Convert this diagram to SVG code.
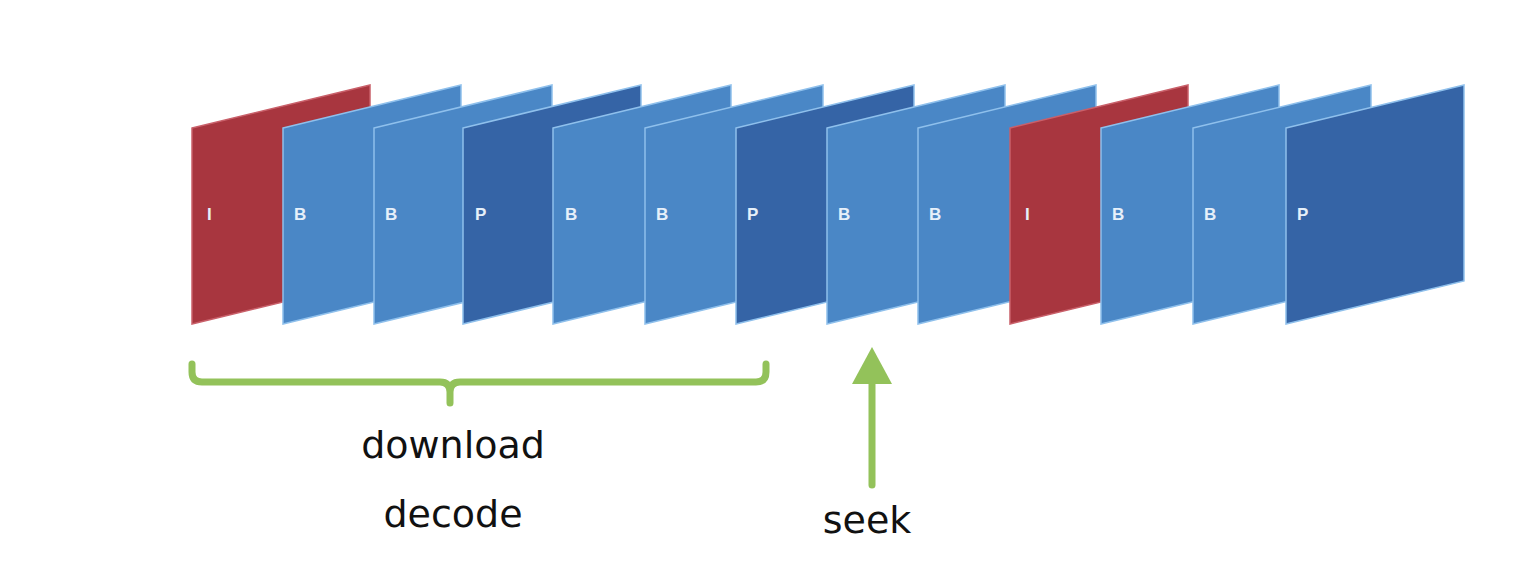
<svg xmlns="http://www.w3.org/2000/svg" width="1540" height="578" viewBox="0 0 1540 578">
<style>
.f{stroke:#8fc0ec;stroke-width:1.5}
.r{fill:#a8363f;stroke:#c9606a}
.b{fill:#4a87c6}
.d{fill:#3564a6}
.l{font-family:"Liberation Sans",Arial,sans-serif;font-weight:bold;font-size:17px;fill:#e6f0fa}
.t{font-family:"DejaVu Sans","Noto Sans",sans-serif;font-size:38px;fill:#111;text-anchor:middle}
.g{fill:none;stroke:#93c25a;stroke-width:7;stroke-linecap:round;stroke-linejoin:round}
</style>
<defs><path id="fr" d="M0,128 L178,85 L178,281 L0,324 Z"/></defs>
<g id="frames">
<g id="f1"><use href="#fr" x="192" class="f r"/><text class="l" x="207" y="220">I</text></g>
<g id="f2"><use href="#fr" x="283" class="f b"/><text class="l" x="294" y="220">B</text></g>
<g id="f3"><use href="#fr" x="374" class="f b"/><text class="l" x="385" y="220">B</text></g>
<g id="f4"><use href="#fr" x="463" class="f d"/><text class="l" x="475" y="220">P</text></g>
<g id="f5"><use href="#fr" x="553" class="f b"/><text class="l" x="565" y="220">B</text></g>
<g id="f6"><use href="#fr" x="645" class="f b"/><text class="l" x="656" y="220">B</text></g>
<g id="f7"><use href="#fr" x="736" class="f d"/><text class="l" x="747" y="220">P</text></g>
<g id="f8"><use href="#fr" x="827" class="f b"/><text class="l" x="838" y="220">B</text></g>
<g id="f9"><use href="#fr" x="918" class="f b"/><text class="l" x="929" y="220">B</text></g>
<g id="f10"><use href="#fr" x="1010" class="f r"/><text class="l" x="1025" y="220">I</text></g>
<g id="f11"><use href="#fr" x="1101" class="f b"/><text class="l" x="1112" y="220">B</text></g>
<g id="f12"><use href="#fr" x="1193" class="f b"/><text class="l" x="1204" y="220">B</text></g>
<g id="f13"><use href="#fr" x="1286" class="f d"/><text class="l" x="1297" y="220">P</text></g>
</g>
<g id="connectors">
<path class="g" d="M192,364 L192,372 Q192,382 202,382 L440,382 Q450,382 450,392 L450,403 L450,392 Q450,382 460,382 L756,382 Q766,382 766,372 L766,364"/>
<line class="g" x1="872" y1="485" x2="872" y2="380"/>
<polygon points="872,347 852,384 892,384" fill="#93c25a"/>
</g>
<g id="labels">
<text class="t" x="453" y="458">download</text>
<text class="t" x="453" y="527">decode</text>
<text class="t" x="867" y="533">seek</text>
</g>
</svg>
